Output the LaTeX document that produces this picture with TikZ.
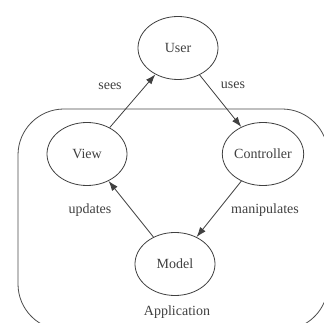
\documentclass[tikz,border=0pt]{standalone}
\usepackage{fontspec}
\setmainfont{Liberation Serif}
\usetikzlibrary{shapes.geometric,arrows.meta}
\begin{document}
\begin{tikzpicture}[x=1pt,y=-1pt,
  st/.style={draw=black!75, line width=0.8pt, ellipse, minimum width=80pt, minimum height=63pt, inner sep=0pt, font=\fontsize{14}{16}\selectfont, text=black!75},
  lbl/.style={font=\fontsize{14}{16}\selectfont, text=black!75, inner sep=0pt},
  conn/.style={draw=black!75, line width=0.8pt, -{Latex[length=10pt,width=7pt]}}]
\useasboundingbox (0,0) rectangle (324,323);
\clip (0,0) rectangle (324,323);
\fill[white] (0,0) rectangle (324,323);
\draw[black!70, line width=0.8pt, rounded corners=46pt] (18,109) rectangle (328,330);
\node[st] (User) at (178,48) {User};
\node[st] (View) at (87,154) {View};
\node[st] (Controller) at (263,154) {Controller};
\node[st] (Model) at (175,264) {Model};
\draw[conn] (View) -- (User);
\draw[conn] (User) -- (Controller);
\draw[conn] (Controller) -- (Model);
\draw[conn] (Model) -- (View);
\node[lbl] (lsees) at (110,86) {sees};
\node[lbl] (luses) at (233,85) {uses};
\node[lbl] (lupd) at (90,210) {updates};
\node[lbl] (lman) at (265,210) {manipulates};
\node[lbl] (lapp) at (177,312) {Application};
\end{tikzpicture}
\end{document}
